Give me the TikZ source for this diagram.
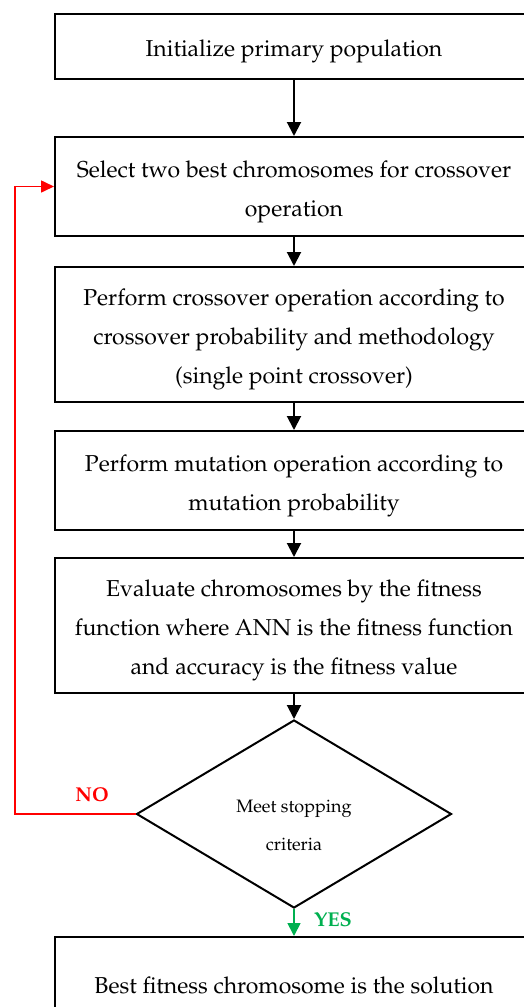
\documentclass[tikz,border=0pt]{standalone}
\usepackage[T1]{fontenc}
\usepackage{mathpazo}
\usetikzlibrary{shapes.geometric,arrows.meta}
\definecolor{noRed}{RGB}{255,0,0}
\definecolor{yesGreen}{RGB}{0,176,80}
\begin{document}
\begin{tikzpicture}[x=1pt,y=-1pt,
  stepbox/.style={draw,line width=2pt,minimum width=478pt,inner sep=0pt},
  steptext/.style={align=center,inner sep=0pt,font=\fontsize{23}{39}\selectfont},
  decision/.style={draw,line width=2pt,shape=diamond,aspect=1.68,inner sep=0pt,
    minimum width=315pt,minimum height=188pt},
  flow/.style={line width=2pt,-{Triangle[length=14pt,width=14pt]}},
  noflow/.style={line width=1.6pt,draw=noRed,-{Triangle[length=13pt,width=12pt]}},
  yesflow/.style={line width=1.8pt,draw=yesGreen,-{Triangle[length=13pt,width=13pt]}},
  tag/.style={inner sep=0pt,font=\fontsize{20}{22}\selectfont\bfseries}
]
\useasboundingbox (0,0) rectangle (523,1007);

% process boxes
\node[stepbox,minimum height=65pt]  (b1) at (294,46.5) {};
\node[stepbox,minimum height=99pt]  (b2) at (294,186.5) {};
\node[stepbox,minimum height=135pt] (b3) at (294,334.5) {};
\node[stepbox,minimum height=99pt]  (b4) at (294,480.5) {};
\node[stepbox,minimum height=135pt] (b5) at (294,625.5) {};
\node[decision] (dia) at (294,814) {};
\node[stepbox,minimum height=100pt] (b6) at (294,987) {};

% box texts
\node[steptext] (t1) at (294,51.5) {Initialize primary population};
\node[steptext] (t2) at (294,191.5) {Select two best chromosomes for crossover\\operation};
\node[steptext] (t3) at (294,339.5) {Perform crossover operation according to\\crossover probability and methodology\\(single point crossover)};
\node[steptext] (t4) at (294,485.5) {Perform mutation operation according to\\mutation probability};
\node[steptext] (t5) at (294,630.5) {Evaluate chromosomes by the fitness\\function where ANN is the fitness function\\and accuracy is the fitness value};
\node[steptext,font=\fontsize{18}{38}\selectfont] (t6) at (294,825) {Meet stopping\\criteria};
\node[steptext] (t7) at (294,985) {Best fitness chromosome is the solution};

% main flow
\draw[flow] (b1.south) -- (b2.north);
\draw[flow] (b2.south) -- (b3.north);
\draw[flow] (b3.south) -- (b4.north);
\draw[flow] (b4.south) -- (b5.north);
\draw[flow] (b5.south) -- (dia.north);

% decision branches
\coordinate (loop) at (15,814);
\draw[noflow] (dia.west) -- (loop) |- (b2.west);
\draw[yesflow] (dia.south) -- (b6.north);
\node[tag,text=noRed] (no) at (92,795) {NO};
\node[tag,text=yesGreen] (yes) at (333,920) {YES};
\end{tikzpicture}
\end{document}
